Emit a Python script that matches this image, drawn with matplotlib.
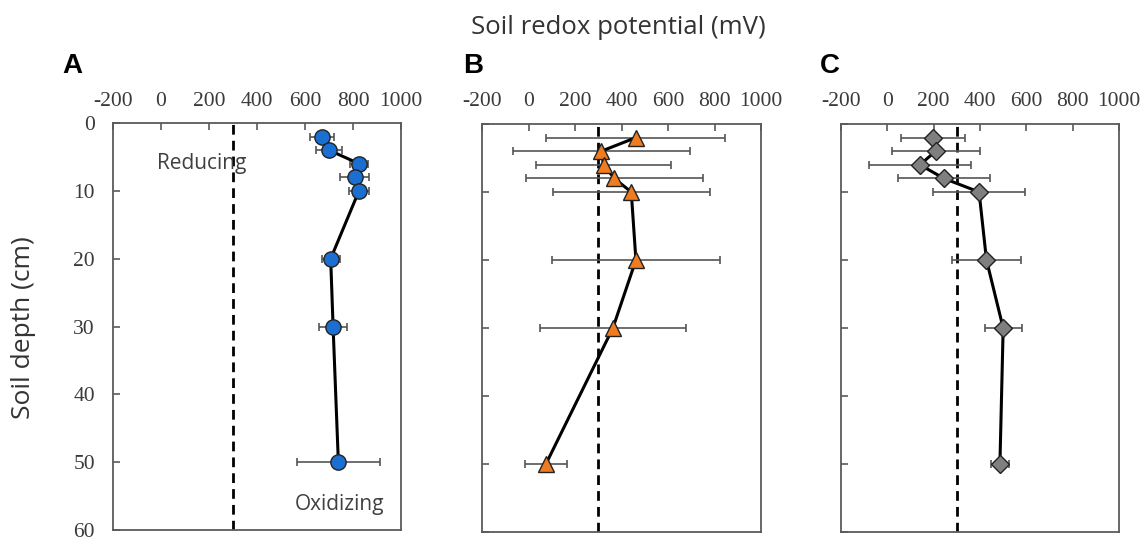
import numpy as np
import matplotlib.pyplot as plt

plt.rcParams['axes.unicode_minus'] = False

depth = [2, 4, 6, 8, 10, 20, 30, 50]

# panel A (blue circles)
eh_a = [671, 700, 825, 807, 825, 707, 717, 739]
err_a = [50, 55, 37, 60, 40, 37, 58, 173]
# panel B (orange triangles)
eh_b = [462, 313, 323, 369, 442, 462, 363, 75]
err_b = [385, 380, 290, 380, 337, 360, 315, 92]
# panel C (grey diamonds)
eh_c = [198, 208, 141, 244, 396, 428, 500, 486]
err_c = [138, 190, 222, 200, 200, 147, 80, 40]

xticks = [-200, 0, 200, 400, 600, 800, 1000]
yticks = [0, 10, 20, 30, 40, 50, 60]
threshold = 300

fig = plt.figure(figsize=(11.43, 5.41), dpi=100)

boxes = [(113, 123, 288, 407), (482, 124, 279, 408), (841, 124, 278, 408)]
series = [(eh_a, err_a, 'o', '#1a6fd1', 11),
          (eh_b, err_b, '^', '#f07c21', 11),
          (eh_c, err_c, 'D', '#7f7f7f', 9)]
letters = ['A', 'B', 'C']
letter_x = [72, 473, 830]

W, H = 1143, 541
spine_col = '#5a5a5a'
for i, ((l, t, w, h), (x, e, m, c, ms)) in enumerate(zip(boxes, series)):
    ax = fig.add_axes([l / W, 1 - (t + h) / H, w / W, h / H])
    ax.axvline(threshold, color='black', lw=2, ls=(0, (3.5, 2.2)), zorder=1)
    ax.errorbar(x, depth, xerr=e, fmt='none', ecolor='#555555',
                elinewidth=1.2, capsize=3, capthick=1.2, zorder=2)
    ax.plot(x, depth, '-', color='black', lw=2.2, zorder=3)
    ax.plot(x, depth, m, ms=ms, mfc=c, mec='#222222', mew=1, ls='none', zorder=4)
    ax.set_xlim(-200, 1000)
    ax.set_ylim(60, 0)
    ax.xaxis.tick_top()
    ax.set_xticks(xticks)
    ax.set_yticks(yticks)
    ax.tick_params(direction='in', length=5, width=1.2, color=spine_col,
                   labelsize=15.5, labelcolor='#3a3a3a')
    ax.tick_params(axis='x', pad=9)
    ax.tick_params(axis='y', pad=13)
    for lab in ax.get_xticklabels() + ax.get_yticklabels():
        lab.set_family('Liberation Serif')
    if i > 0:
        ax.set_yticklabels([])
    for s in ax.spines.values():
        s.set_color(spine_col)
        s.set_linewidth(1.3)
    fig.text(letter_x[i] / W, 1 - 66 / H, letters[i], fontsize=20,
             fontweight='bold', family='Liberation Sans', ha='center', va='center')
    if i == 0:
        ax.text(170, 6, 'Reducing', fontsize=15, family='Open Sans',
                color='#404040', ha='center', va='center')
        ax.text(745, 56.3, 'Oxidizing', fontsize=15, family='Open Sans',
                color='#404040', ha='center', va='center')

fig.text(618 / W, 1 - 28 / H, 'Soil redox potential (mV)', fontsize=18.5,
         family='Open Sans', color='#333333', ha='center', va='center')
fig.text(24 / W, 1 - 328 / H, 'Soil depth (cm)', fontsize=19, rotation=90,
         family='Open Sans', color='#333333', ha='center', va='center')

fig.savefig('out.png', dpi=100)
